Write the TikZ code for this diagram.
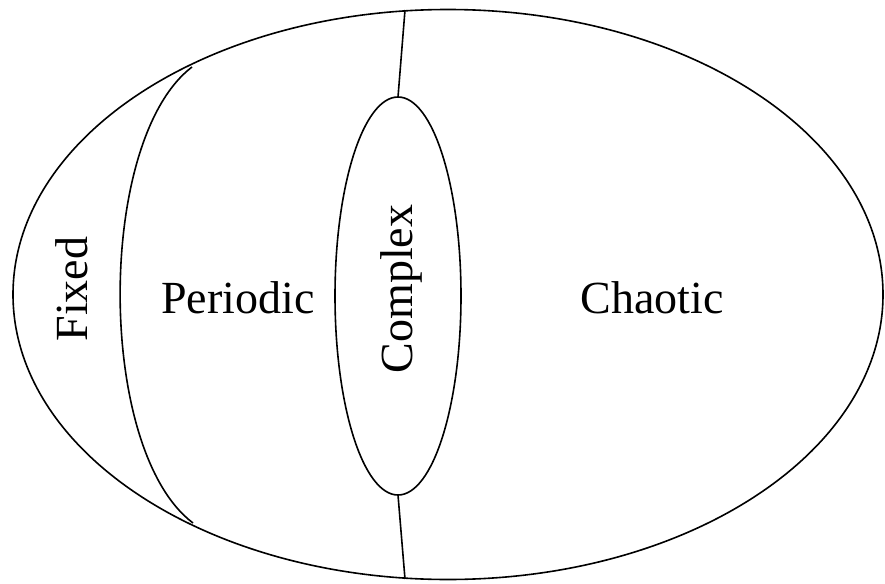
\documentclass[tikz,border=0pt]{standalone}
\usepackage{fontspec}
\setmainfont{Liberation Serif}
\begin{document}
\begin{tikzpicture}[x=1pt,y=-1pt,
  edge/.style={line width=1.6pt,black},
  lbl/.style={font=\fontsize{46}{50}\selectfont,inner sep=0pt}]
\useasboundingbox (0,0) rectangle (885,583);
\fill[white] (0,0) rectangle (885,583);
% outer ellipse
\draw[edge] (448,294.5) ellipse [x radius=435pt, y radius=285pt];
% complex ellipse
\draw[edge] (398,296) ellipse [x radius=63pt, y radius=199pt];
\coordinate (outT) at (405,10);
\coordinate (inT) at (398,97);
\coordinate (inB) at (398,495);
\coordinate (outB) at (405,579);
\coordinate (fixT) at (192,67);
\coordinate (fixB) at (193,523);
\draw[edge] (outT) -- (inT);
\draw[edge] (inB) -- (outB);
\draw[edge] (fixT) .. controls (96,140) and (96,450) .. (fixB);
\node[lbl,rotate=90] (fixed) at (72,289) {Fixed};
\node[lbl] (periodic) at (238,298) {Periodic};
\node[lbl,rotate=90] (complex) at (401,289) {Complex};
\node[lbl] (chaotic) at (652,298) {Chaotic};
\end{tikzpicture}
\end{document}
